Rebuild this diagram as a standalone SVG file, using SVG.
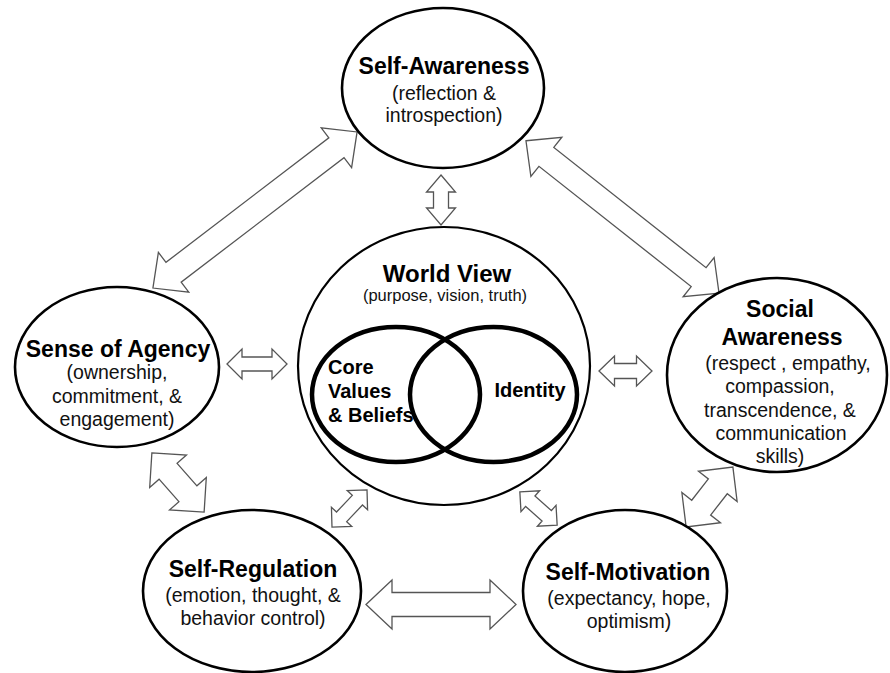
<svg xmlns="http://www.w3.org/2000/svg" width="890" height="673" viewBox="0 0 890 673">
<style>
.node{fill:#fff;stroke:#000;stroke-width:2.6}
.outer{fill:#fff;stroke:#000;stroke-width:2.2}
.venn{fill:none;stroke:#000;stroke-width:4.5}
.arr{fill:#fff;stroke:#555;stroke-width:1.3;stroke-linejoin:miter}
text{font-family:"Liberation Sans",Arial,Helvetica,sans-serif;text-anchor:middle;fill:#111}
.t{font-weight:bold;font-size:23px;fill:#000}
.s{font-size:19.5px}
.ws{font-size:16.5px}
.v{font-weight:bold;font-size:20px;fill:#000}
</style>
<rect width="890" height="673" fill="#fff"/>
<g id="connectors">
<polygon class="arr" transform="translate(441,200) rotate(90)" points="-25,0 -8,-14.5 -8,-7.5 8,-7.5 8,-14.5 25,0 8,14.5 8,7.5 -8,7.5 -8,14.5"/>
<polygon class="arr" transform="translate(255,210) rotate(-37.4)" points="-128.5,0 -102.5,-25 -102.5,-12.5 102.5,-12.5 102.5,-25 128.5,0 102.5,25 102.5,12.5 -102.5,12.5 -102.5,25"/>
<polygon class="arr" transform="translate(622.5,217) rotate(38.3)" points="-123,0 -97,-25 -97,-12 97,-12 97,-25 123,0 97,25 97,12 -97,12 -97,25"/>
<polygon class="arr" transform="translate(257,364)" points="-30,0 -15,-15 -15,-7 15,-7 15,-15 30,0 15,15 15,7 -15,7 -15,15"/>
<polygon class="arr" transform="translate(625.5,371)" points="-26.5,0 -11,-15 -11,-7.5 11,-7.5 11,-15 26.5,0 11,15 11,7.5 -11,7.5 -11,15"/>
<polygon class="arr" transform="translate(441,604.5)" points="-75,0 -49,-24.5 -49,-12 49,-12 49,-24.5 75,0 49,24.5 49,12 -49,12 -49,24.5"/>
<polygon class="arr" transform="translate(178,482.5) rotate(48.6)" points="-39.5,0 -15,-24.5 -15,-12 15,-12 15,-24.5 39.5,0 15,24.5 15,12 -15,12 -15,24.5"/>
<polygon class="arr" transform="translate(709.5,497) rotate(-52)" points="-38,0 -13.5,-24.5 -13.5,-12 13.5,-12 13.5,-24.5 38,0 13.5,24.5 13.5,12 -13.5,12 -13.5,24.5"/>
<polygon class="arr" transform="translate(349.5,508.5) rotate(-46.6)" points="-25.5,0 -11.5,-14 -11.5,-7 11.5,-7 11.5,-14 25.5,0 11.5,14 11.5,7 -11.5,7 -11.5,14"/>
<polygon class="arr" transform="translate(538.5,508.5) rotate(41.7)" points="-25,0 -11,-14 -11,-7 11,-7 11,-14 25,0 11,14 11,7 -11,7 -11,14"/>
</g>
<g id="self-awareness">
<ellipse class="node" cx="443" cy="88" rx="101" ry="80"/>
<text class="t" x="444" y="74">Self-Awareness</text>
<text class="s" x="444" y="100">(reflection &amp;</text>
<text class="s" x="444" y="122">introspection)</text>
</g>
<g id="sense-of-agency">
<ellipse class="node" cx="117" cy="367" rx="102" ry="80"/>
<text class="t" x="118" y="357">Sense of Agency</text>
<text class="s" x="117" y="379">(ownership,</text>
<text class="s" x="117" y="403">commitment, &amp;</text>
<text class="s" x="117" y="426">engagement)</text>
</g>
<g id="world-view">
<ellipse class="outer" cx="444" cy="366" rx="146" ry="139"/>
<text class="t" x="447" y="282" style="font-size:24px">World View</text>
<text class="ws" x="445" y="301">(purpose, vision, truth)</text>
<g id="core-values">
<ellipse class="venn" cx="396" cy="394.5" rx="84" ry="67.5"/>
<text class="v" x="328" y="374" style="text-anchor:start">Core</text>
<text class="v" x="328" y="398" style="text-anchor:start">Values</text>
<text class="v" x="328" y="422" style="text-anchor:start">&amp; Beliefs</text>
</g>
<g id="identity">
<ellipse class="venn" cx="493.5" cy="394.5" rx="83.5" ry="67.5"/>
<text class="v" x="530" y="397">Identity</text>
</g>
</g>
<g id="social-awareness">
<ellipse class="node" cx="777" cy="375" rx="110" ry="97"/>
<text class="t" x="780" y="317">Social</text>
<text class="t" x="782" y="345">Awareness</text>
<text class="s" x="788" y="370">(respect , empathy,</text>
<text class="s" x="780" y="393">compassion,</text>
<text class="s" x="780" y="417">transcendence, &amp;</text>
<text class="s" x="781" y="440">communication</text>
<text class="s" x="780" y="463">skills)</text>
</g>
<g id="self-regulation">
<ellipse class="node" cx="252" cy="591" rx="109" ry="81"/>
<text class="t" x="253" y="577">Self-Regulation</text>
<text class="s" x="253" y="602">(emotion, thought, &amp;</text>
<text class="s" x="253" y="625">behavior control)</text>
</g>
<g id="self-motivation">
<ellipse class="node" cx="625" cy="591" rx="102" ry="81"/>
<text class="t" x="628" y="580">Self-Motivation</text>
<text class="s" x="629" y="605">(expectancy, hope,</text>
<text class="s" x="629" y="628">optimism)</text>
</g>
</svg>
